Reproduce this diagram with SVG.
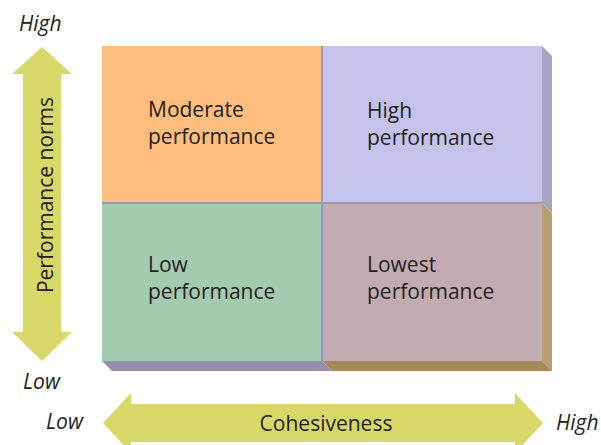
<svg xmlns="http://www.w3.org/2000/svg" width="601" height="445" viewBox="0 0 601 445">
<style>
text{font-family:"Open Sans","Liberation Sans",sans-serif;fill:#231f20;}
.q{font-size:21px;}
.ax{font-size:21px;font-style:italic;}
.arrow{fill:#d7d868;}
.div{stroke:#9a97bd;stroke-width:2;fill:none;}
</style>
<rect width="601" height="445" fill="#ffffff"/>
<g id="axes">
<polygon class="arrow" points="42,47 72,74 61,74 61,332 72,332 42,361 12,332 23,332 23,74 12,74"/>
<polygon class="arrow" points="103,423 131,393 131,404 515,404 515,393 543,423 515,453 515,442 131,442 131,453"/>
<text class="q" transform="translate(53,195) rotate(-90)" text-anchor="middle">Performance norms</text>
<text class="q" x="326" y="431" text-anchor="middle">Cohesiveness</text>
<text class="ax" x="19" y="31">High</text>
<text class="ax" x="23" y="389">Low</text>
<text class="ax" x="46" y="429">Low</text>
<text class="ax" x="556" y="430">High</text>
</g>
<g id="depth">
<polygon fill="#a9a3c5" points="542,46 552,56 552,213 542,203"/>
<polygon fill="#b7a074" points="542,203 552,213 552,371 542,361"/>
<polygon fill="#958cb1" points="102,361 322,361 332,371 112,371"/>
<polygon fill="#a68a57" points="322,361 542,361 552,371 332,371"/>
</g>
<g id="moderate">
<rect x="102" y="46" width="220" height="157" fill="#fdbd7c"/>
<text class="q" x="148" y="117">Moderate</text>
<text class="q" x="148" y="144">performance</text>
</g>
<g id="high">
<rect x="322" y="46" width="220" height="157" fill="#c5c3ec"/>
<text class="q" x="367" y="118">High</text>
<text class="q" x="367" y="145">performance</text>
</g>
<g id="low">
<rect x="102" y="203" width="220" height="158" fill="#a2cbb0"/>
<text class="q" x="148" y="272">Low</text>
<text class="q" x="148" y="299">performance</text>
</g>
<g id="lowest">
<rect x="322" y="203" width="220" height="158" fill="#c3abb2"/>
<text class="q" x="367" y="272">Lowest</text>
<text class="q" x="367" y="299">performance</text>
</g>
<g id="connectors">
<line class="div" x1="322" y1="46" x2="322" y2="361"/>
<line class="div" x1="102" y1="203" x2="542" y2="203"/>
</g>
</svg>
